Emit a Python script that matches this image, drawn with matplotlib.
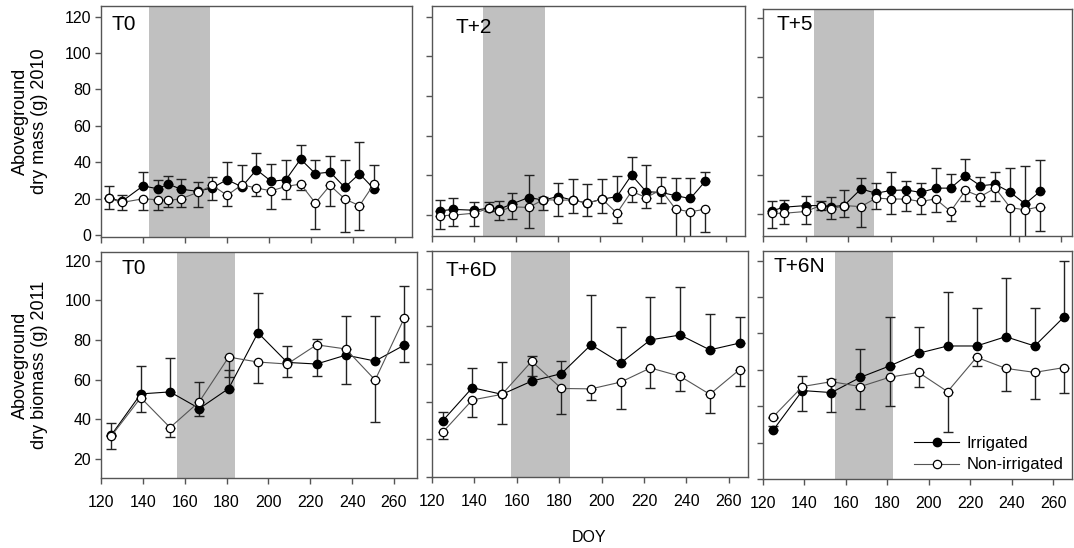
import numpy as np
import matplotlib
matplotlib.use("Agg")
import matplotlib.pyplot as plt
from matplotlib.lines import Line2D

plt.rcParams['font.family'] = ['Liberation Sans', 'DejaVu Sans']

# ---------------- data ----------------
panel_labels = ["T0", "T+2", "T+5", "T0", "T+6D", "T+6N"]
legend_labels = ["Irrigated", "Non-irrigated"]

doy_2010 = [124, 130, 140, 147, 152, 158, 166, 173, 180, 187, 194, 201, 208, 215, 222, 229, 236, 243, 250]
doy_2011 = [125, 139, 153, 167, 181, 195, 209, 223, 237, 251, 265]

# shaded periods (DOY start, end)
shade_periods = [(143, 172), (144.5, 174), (144, 172), (156.5, 184), (157.3, 185), (154.7, 182.7)]

# 2010, T0
t0_2010_irr = [20.3, 18.5, 27, 25.4, 28, 25.2, 24, 26, 30.4, 26.5, 35.9, 29.5, 30.4, 41.7, 33.7, 34.6, 26.2, 33.7, 25.2]
t0_2010_irr_err = [6.7, 3.5, 7.4, 5, 4.2, 5.8, 5, 6, 9.5, 12, 9, 9.5, 10.6, 8, 7.3, 8.6, 14.8, 17.2, 13.4]
t0_2010_non = [20.1, 17.9, 19.9, 19.4, 19, 19.9, 23.4, 27.3, 21.8, 27.6, 25.8, 24.3, 26.7, 28, 17.6, 27.3, 19.8, 16.1, 28.2]
t0_2010_non_err = [6, 4.4, 6.4, 5.9, 3.6, 4.5, 8, 8.3, 6.1, 1.5, 4.6, 9.8, 6.9, 3.1, 14.3, 11.2, 18.2, 13.2, 3]

# 2010, T+2
t2_2010_irr = [22.2, 22.9, 22.5, 23.5, 23, 25.6, 28.9, 27.6, 29.4, 27.6, 26.1, 28.1, 29.3, 40.2, 31.8, 31.5, 29.8, 28.4, 37]
t2_2010_irr_err = [5.4, 5.7, 4.2, 2.9, 4, 5.5, 11.5, 1.8, 6.6, 10.6, 9.6, 9.9, 10.6, 9.3, 13.5, 7.5, 8.9, 10.1, 5]
t2_2010_non = [19.7, 20, 21, 23.4, 21.9, 24.2, 23.9, 27.8, 27.6, 27.6, 26.1, 28.1, 21, 32, 28.9, 32.8, 23, 21.7, 23]
t2_2010_non_err = [6.8, 5.4, 6.4, 1.2, 4.4, 6.2, 10.6, 5.3, 7.9, 6.6, 6.4, 7.1, 4.7, 5.6, 5.4, 6.9, 20, 20, 11.3]

# 2010, T+5
t5_2010_irr = [21.7, 23.6, 24.4, 24.4, 23.9, 24.4, 32.9, 30.7, 32.1, 32.4, 31.1, 33.3, 33.3, 39.7, 34.5, 35.3, 31.2, 25.3, 31.6]
t5_2010_irr_err = [5.1, 3.7, 5, 2.4, 4.8, 8, 5.5, 5.1, 9.3, 4.6, 4.7, 10.2, 7.3, 8.5, 4.7, 6, 12.3, 19.4, 16.1]
t5_2010_non = [20.5, 20.5, 21.4, 24.4, 22.6, 24.4, 23.9, 28.2, 27.8, 27.7, 26.5, 27.8, 21.4, 32.1, 29, 33.3, 23.4, 22.2, 23.9]
t5_2010_non_err = [7.6, 5.4, 6.3, 2.5, 5, 5.9, 10.2, 5.5, 7.6, 6, 6.3, 6.8, 4.8, 5.6, 4.7, 6.8, 20, 20, 12.2]

# 2011, T0
t0_2011_irr = [32.1, 52.8, 53.8, 45.4, 55.5, 83.7, 68.7, 67.9, 72.4, 69.4, 77.5]
t0_2011_irr_err = [6, 14, 17, 13.6, 9.4, 20, 8.3, 12.4, 20, 23, 30]
t0_2011_non = [31.6, 50.9, 35.8, 48.9, 71.4, 68.9, 67.9, 77.6, 75.5, 59.8, 91.3]
t0_2011_non_err = [6.6, 7.5, 4.9, 7.2, 10.2, 10.4, 6.7, 16, 17.7, 21, 22.6]

# 2011, T+6D
t6d_2011_irr = [29.8, 47.4, 43.9, 50.9, 54.9, 70.2, 60.5, 72.8, 75.4, 67.5, 71.1]
t6d_2011_irr_err = [4.8, 10.5, 17, 13.1, 6.5, 26.3, 19.3, 22.8, 25.5, 19.3, 14]
t6d_2011_non = [23.7, 40.9, 43.9, 61.4, 47, 46.8, 50.4, 57.9, 53.5, 43.9, 57]
t6d_2011_non_err = [3.5, 9, 15.5, 7.9, 13.7, 6.1, 14.4, 10.9, 7.9, 10, 8.8]

# 2011, T+6N
t6n_2011_irr = [27, 48.6, 47.5, 55.9, 62.1, 69.1, 73.1, 73.1, 78.2, 73.1, 88.9]
t6n_2011_irr_err = [2, 8, 7.5, 15.4, 27.1, 14.6, 29.9, 21.1, 32.1, 20.7, 31.1]
t6n_2011_non = [34.3, 50.8, 53.5, 50.8, 55.9, 58.6, 48, 66.9, 60.8, 58.6, 61.2]
t6n_2011_non_err = [1, 13.2, 16.5, 12.5, 15.8, 7.8, 22, 4.6, 12.2, 14.8, 14.1]

series = [
    (doy_2010, t0_2010_irr, t0_2010_irr_err, t0_2010_non, t0_2010_non_err),
    (doy_2010, t2_2010_irr, t2_2010_irr_err, t2_2010_non, t2_2010_non_err),
    (doy_2010, t5_2010_irr, t5_2010_irr_err, t5_2010_non, t5_2010_non_err),
    (doy_2011, t0_2011_irr, t0_2011_irr_err, t0_2011_non, t0_2011_non_err),
    (doy_2011, t6d_2011_irr, t6d_2011_irr_err, t6d_2011_non, t6d_2011_non_err),
    (doy_2011, t6n_2011_irr, t6n_2011_irr_err, t6n_2011_non, t6n_2011_non_err),
]

x_ticks = [120, 140, 160, 180, 200, 220, 240, 260]
y_ticks_2010 = [0, 20, 40, 60, 80, 100, 120]
y_ticks_2011 = [20, 40, 60, 80, 100, 120]

# ---------------- layout ----------------
W, H = 1074, 548
fig = plt.figure(figsize=(W / 100, H / 100), dpi=100)

# pixel boxes: (left, top, right, bottom)
boxes = [
    (101, 6, 412, 237),
    (432, 6, 745, 236),
    (763, 9, 1072, 236),
    (101, 252, 417, 478),
    (432, 251, 748, 477),
    (763, 251, 1072, 479),
]
xlims = [(120, 268), (120, 269), (120, 265), (120, 271), (120, 269), (120, 269)]
ylims = [(-1.1, 125.9), (9.5, 125.4), (8.9, 124.6), (10.3, 124.5), (0, 120), (0, 125.3)]
yticks = [y_ticks_2010, y_ticks_2011, y_ticks_2011, y_ticks_2011,
          [0] + y_ticks_2011, [0] + y_ticks_2011]
label_offsets = [(10, -9), (23, -12), (14, -6), (21, -7), (14, -10), (11, -6)]

spine_col = '#555555'
line_irr = dict(color='black', lw=0.8, marker='o', ms=6, mfc='black', mec='black')
line_non = dict(color='#555555', lw=0.8, marker='o', ms=6, mfc='white', mec='black', mew=0.9)

axes = []
for i, (l, t, r, b) in enumerate(boxes):
    ax = fig.add_axes([l / W, 1 - b / H, (r - l) / W, (b - t) / H])
    axes.append(ax)
    doy, irr, irr_err, non, non_err = series[i]
    s0, s1 = shade_periods[i]
    ax.axvspan(s0, s1, color='#c0c0c0', lw=0, zorder=0)
    zeros = [0] * len(doy)
    ax.errorbar(doy, irr, yerr=[zeros, irr_err], fmt='none', ecolor='#222222',
                elinewidth=1.0, capsize=3.5, capthick=1.0, zorder=2)
    ax.errorbar(doy, non, yerr=[non_err, zeros], fmt='none', ecolor='#222222',
                elinewidth=1.0, capsize=3.5, capthick=1.0, zorder=2)
    ax.plot(doy, irr, zorder=3, **line_irr)
    ax.plot(doy, non, zorder=4, **line_non)
    ax.set_xlim(*xlims[i])
    ax.set_ylim(*ylims[i])
    ax.set_xticks(x_ticks)
    ax.set_yticks(yticks[i])
    for sp in ax.spines.values():
        sp.set_color(spine_col)
        sp.set_linewidth(1.0)
    ax.tick_params(direction='out', length=4, width=1, color=spine_col,
                   labelsize=11.5, pad=3)
    if i < 3:
        ax.tick_params(labelbottom=False)
    else:
        ax.tick_params(axis='x', pad=8)
    if i not in (0, 3):
        ax.tick_params(labelleft=False)
    ax.annotate(panel_labels[i], xy=(0, 1), xycoords='axes fraction',
                xytext=label_offsets[i], textcoords='offset pixels',
                ha='left', va='top', fontsize=15)

handles = [Line2D([], [], **line_irr), Line2D([], [], **line_non)]
axes[5].legend(handles, legend_labels, loc='lower right', frameon=False, fontsize=12,
               handlelength=2.7, handletextpad=0.45, labelspacing=0.4,
               borderaxespad=0.0, bbox_to_anchor=(0.995, 0.0))

fig.text(30 / W, 1 - 121 / H, "Aboveground\ndry mass (g) 2010", rotation=90,
         ha='center', va='center', multialignment='center', fontsize=13, linespacing=1.15)
fig.text(30 / W, 1 - 365 / H, "Aboveground\ndry biomass (g) 2011", rotation=90,
         ha='center', va='center', multialignment='center', fontsize=13, linespacing=1.15)
fig.text(589 / W, 1 - 537 / H, "DOY", ha='center', va='center', fontsize=11.5)

fig.savefig("out.png", dpi=100)
